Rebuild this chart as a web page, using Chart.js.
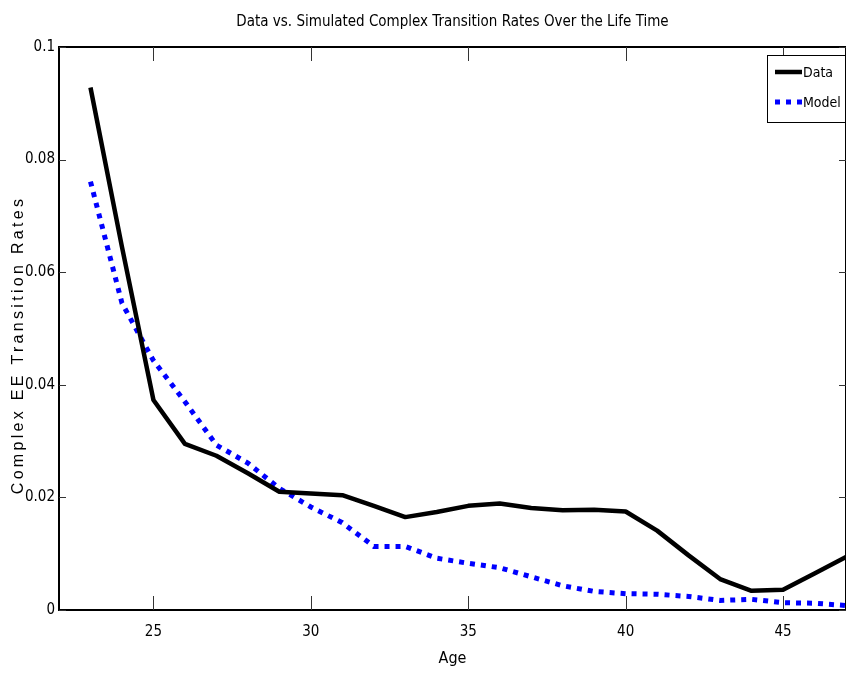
<!DOCTYPE html>
<html>
<head>
<meta charset="utf-8">
<script src="https://cdn.jsdelivr.net/npm/chart.js@4.4.1/dist/chart.umd.min.js"></script>
<style>
  html, body { margin: 0; padding: 0; background: #fff; }
  canvas { display: block; }
</style>
</head>
<body>
<canvas id="graficoTaxas" width="846" height="675"></canvas>
<script>
// dados
var idades = [23, 24, 25, 26, 27, 28, 29, 30, 31, 32, 33, 34, 35, 36, 37, 38, 39, 40, 41, 42, 43, 44, 45, 46, 47];
var taxasDados = [0.0928, 0.0645, 0.0373, 0.0295, 0.0274, 0.0243, 0.0210, 0.0207, 0.0204, 0.0185, 0.0165, 0.0174, 0.0185,
                  0.0189, 0.0181, 0.0177, 0.0178, 0.0175, 0.0141, 0.0097, 0.0055, 0.0034, 0.0036, 0.0065, 0.0094];
var taxasModelo = [0.0761, 0.0545, 0.0443, 0.0370, 0.0293, 0.0261, 0.0216, 0.0183, 0.0155, 0.0113, 0.0113, 0.0092, 0.0083,
                   0.0075, 0.0059, 0.0043, 0.0033, 0.0029, 0.0028, 0.0024, 0.0017, 0.0019, 0.0013, 0.0012, 0.0008];
var nomesSeries = ['Data', 'Model'];
var ticksX = [25, 30, 35, 40, 45];
var ticksY = [0, 0.02, 0.04, 0.06, 0.08, 0.1];
var rotulosY = ['0', '0.02', '0.04', '0.06', '0.08', '0.1'];
var tituloGrafico = 'Data vs. Simulated Complex Transition Rates Over the Life Time';
var tituloY = 'Complex EE Transition Rates';

var fonteEstreita = '"Liberation Sans Narrow", "Arial Narrow", "DejaVu Sans Condensed", sans-serif';

function pontos(valores) {
    return idades.map(function (idade, i) { return { x: idade, y: valores[i] }; });
}

// moldura estilo matlab: ticks para dentro nos quatro lados + eixo de cima
var molduraPlugin = {
    id: 'moldura',
    afterDraw: function (chart) {
        var ctx = chart.ctx, area = chart.chartArea;
        var sx = chart.scales.x, sy = chart.scales.y;
        ctx.save();
        ctx.strokeStyle = '#000';
        ctx.lineWidth = 2;
        ctx.beginPath();
        ctx.moveTo(area.left, area.top);
        ctx.lineTo(area.right, area.top);
        ctx.lineTo(area.right, area.bottom);
        ctx.stroke();
        ctx.lineWidth = 1;
        ctx.strokeStyle = '#333';
        ctx.beginPath();
        ticksX.forEach(function (v) {
            var px = Math.round(sx.getPixelForValue(v)) + 0.5;
            ctx.moveTo(px, area.bottom); ctx.lineTo(px, area.bottom - 14);
            ctx.moveTo(px, area.top); ctx.lineTo(px, area.top + 14);
        });
        ticksY.forEach(function (v) {
            var py = Math.round(sy.getPixelForValue(v)) + 0.5;
            ctx.moveTo(area.left, py); ctx.lineTo(area.left + 7, py);
            ctx.moveTo(area.right, py); ctx.lineTo(area.right - 7, py);
        });
        ctx.stroke();

        // titulo do eixo y com espacamento entre letras
        ctx.fillStyle = '#000';
        ctx.font = '16px "Liberation Sans", Arial, sans-serif';
        if ('letterSpacing' in ctx) ctx.letterSpacing = '3.3px';
        ctx.translate(19, 345);
        ctx.rotate(-Math.PI / 2);
        ctx.textAlign = 'center';
        ctx.textBaseline = 'middle';
        ctx.fillText(tituloY, 0, 0);
        ctx.restore();
    }
};

// legenda dentro da area do grafico, canto superior direito
var legendaPlugin = {
    id: 'legendaInterna',
    afterDraw: function (chart) {
        var ctx = chart.ctx, area = chart.chartArea;
        var x0 = 767, y0 = area.top + 8, w = 78, h = 67;
        ctx.save();
        ctx.fillStyle = '#fff';
        ctx.fillRect(x0, y0, w, h);
        ctx.strokeStyle = '#000';
        ctx.lineWidth = 1;
        ctx.strokeRect(x0 + 0.5, y0 + 0.5, w, h);
        ctx.font = '14px ' + fonteEstreita;
        ctx.textBaseline = 'middle';
        ctx.textAlign = 'left';
        chart.data.datasets.forEach(function (ds, i) {
            var yy = y0 + 17 + i * 30;
            ctx.strokeStyle = ds.borderColor;
            ctx.lineWidth = ds.borderWidth;
            ctx.setLineDash(ds.borderDash || []);
            ctx.beginPath();
            ctx.moveTo(x0 + 8, yy);
            ctx.lineTo(x0 + 35, yy);
            ctx.stroke();
            ctx.setLineDash([]);
            ctx.fillStyle = '#000';
            ctx.fillText(ds.label, x0 + 36, yy + 1);
        });
        ctx.restore();
    }
};

var ctx = document.getElementById('graficoTaxas').getContext('2d');

var config = {
    type: 'line',
    data: {
        datasets: [{
            label: nomesSeries[0],
            data: pontos(taxasDados),
            borderColor: '#000000',
            borderWidth: 4.5,
            pointRadius: 0,
            tension: 0,
            borderJoinStyle: 'round'
        }, {
            label: nomesSeries[1],
            data: pontos(taxasModelo),
            borderColor: '#0000ff',
            borderWidth: 5,
            borderDash: [5, 6],
            borderCapStyle: 'butt',
            pointRadius: 0,
            tension: 0
        }]
    },
    options: {
        responsive: false,
        animation: false,
        layout: { padding: { left: 0, right: -3, top: 0, bottom: 0 } },
        plugins: {
            legend: { display: false },
            tooltip: { enabled: false },
            title: { display: false }
        },
        scales: {
            x: {
                type: 'linear',
                min: 22,
                max: 47,
                afterBuildTicks: function (s) { s.ticks = ticksX.map(function (v) { return { value: v }; }); },
                afterFit: function (s) { s.height = 65; },
                grid: { display: false, drawTicks: false },
                border: { display: true, color: '#000', width: 2 },
                ticks: {
                    color: '#000',
                    font: { family: fonteEstreita, size: 15 },
                    padding: 13,
                    maxRotation: 0,
                    autoSkip: false
                },
                title: {
                    display: true,
                    text: 'Age',
                    color: '#000',
                    font: { family: fonteEstreita, size: 16 },
                    padding: { top: 0, bottom: 7 }
                }
            },
            // eixo de cima so para centralizar o titulo sobre a area do grafico
            xTopo: {
                type: 'linear',
                position: 'top',
                min: 22,
                max: 47,
                afterFit: function (s) { s.height = 47; },
                grid: { display: false, drawTicks: false },
                border: { display: false },
                ticks: { display: false },
                title: {
                    display: true,
                    text: tituloGrafico,
                    color: '#000',
                    font: { family: fonteEstreita, size: 15 },
                    padding: { top: 13, bottom: 0 }
                }
            },
            y: {
                min: 0,
                max: 0.1,
                afterBuildTicks: function (s) { s.ticks = ticksY.map(function (v) { return { value: v }; }); },
                afterFit: function (s) { s.width = 59; },
                grid: { display: false, drawTicks: false },
                border: { display: true, color: '#000', width: 2 },
                ticks: {
                    color: '#000',
                    font: { family: fonteEstreita, size: 15 },
                    padding: 4,
                    callback: function (v, i) { return rotulosY[i]; }
                }
            }
        }
    },
    plugins: [molduraPlugin, legendaPlugin]
};

var graficoTaxas = new Chart(ctx, config);
</script>
</body>
</html>
